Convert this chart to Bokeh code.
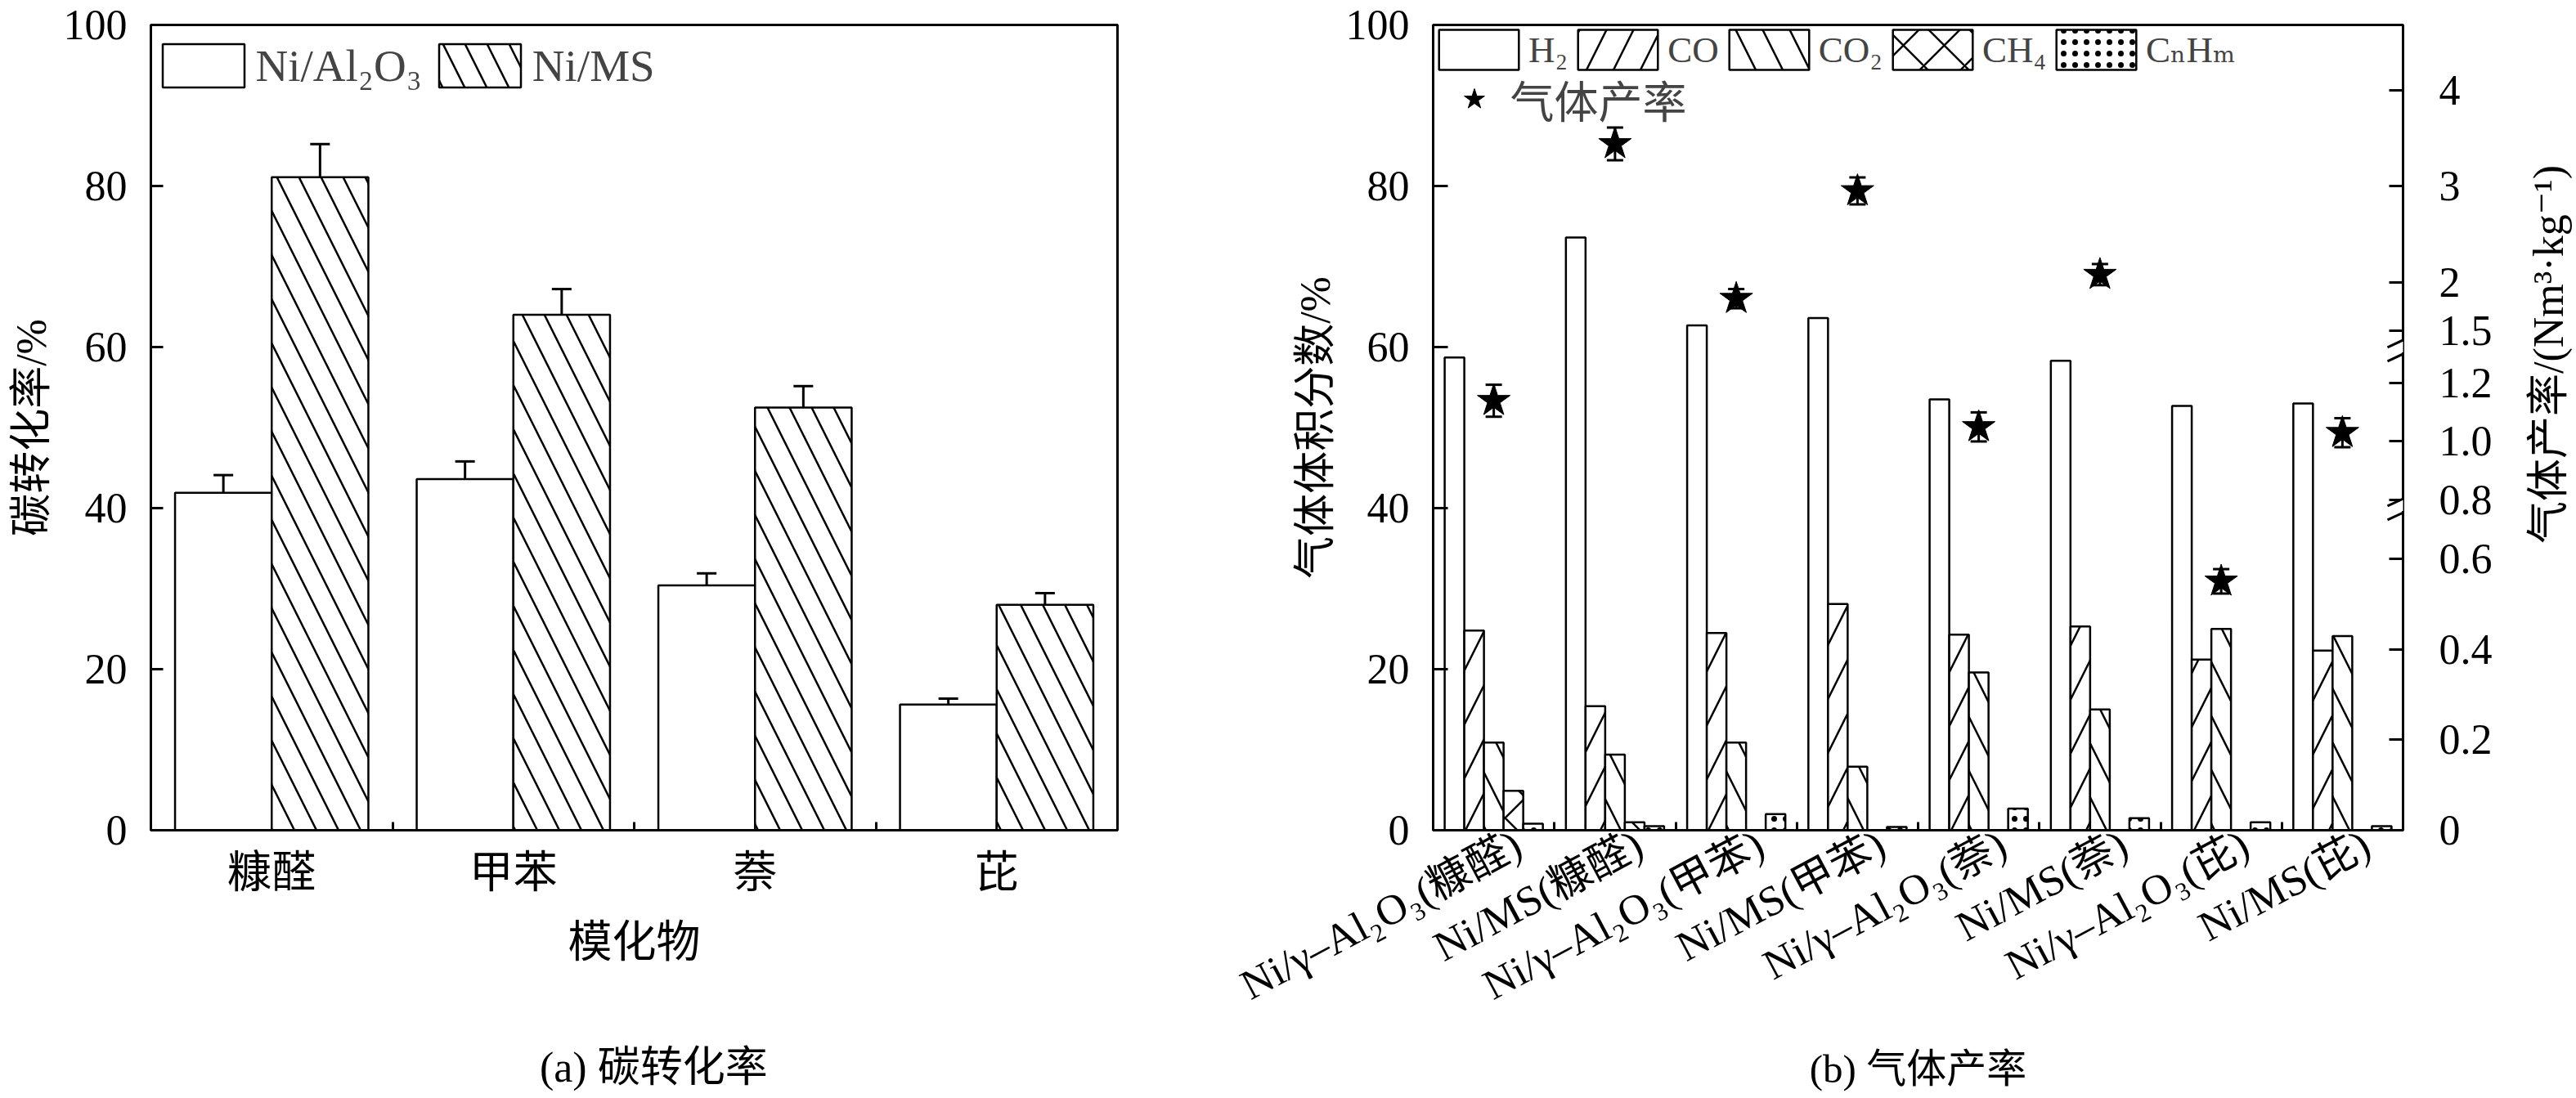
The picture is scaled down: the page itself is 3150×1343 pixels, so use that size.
import numpy as np
from bokeh.plotting import figure
from bokeh.models import (Range1d, FixedTicker, LinearAxis, Legend, LegendItem, Label,
                          Whisker, TeeHead, ColumnDataSource, Arrow)
from bokeh.layouts import row, column
from bokeh.embed import file_html
from bokeh.resources import INLINE

# ---------------- data: (a) carbon conversion ----------------
compounds = ["糠醛", "甲苯", "萘", "芘"]
conv_al2o3 = [41.9, 43.6, 30.4, 15.6]
conv_al2o3_err = [2.2, 2.2, 1.5, 0.75]
conv_ms = [81.1, 64.0, 52.5, 28.0]
conv_ms_err = [4.1, 3.2, 2.65, 1.45]

# ---------------- data: (b) gas composition and yield ----------------
samples = ["Ni/γ–Al₂O₃(糠醛)", "Ni/MS(糠醛)", "Ni/γ–Al₂O₃(甲苯)", "Ni/MS(甲苯)",
           "Ni/γ–Al₂O₃(萘)", "Ni/MS(萘)", "Ni/γ–Al₂O₃(芘)", "Ni/MS(芘)"]
h2 = [58.7, 73.6, 62.7, 63.6, 53.5, 58.3, 52.7, 53.0]
co = [24.8, 15.4, 24.5, 28.1, 24.3, 25.3, 21.2, 22.3]
co2 = [10.9, 9.4, 10.9, 7.9, 19.6, 15.0, 25.0, 24.1]
ch4 = [4.9, 1.0, 0.0, 0.0, 0.0, 0.0, 0.0, 0.0]
cnhm = [0.8, 0.5, 2.0, 0.4, 2.7, 1.5, 1.0, 0.5]
gas_yield = [1.14, 3.44, 1.83, 2.95, 1.05, 2.08, 0.55, 1.03]
gas_yield_err = [0.055, 0.17, 0.10, 0.14, 0.05, 0.11, 0.027, 0.05]
yield_ticks = [0, 0.2, 0.4, 0.6, 0.8, 1.0, 1.2, 1.5, 2, 3, 4]
yield_tick_labels = ["0", "0.2", "0.4", "0.6", "0.8", "1.0", "1.2", "1.5", "2", "3", "4"]

# broken right axis: (value limit, anchor value, anchor position on left scale, slope)
segments = [(0.70, 0.0, 0.0, 56.2), (1.31, 1.0, 48.28, 36.1), (99.0, 2.0, 68.04, 11.94)]
break_levels = [40.3, 60.0]


def to_left(v):
    for lim, v0, y0, k in segments:
        if v <= lim:
            return y0 + (v - v0) * k
    return None


# ---------------- layout constants (page has no margin) ----------------
SERIF = "Liberation Serif, DejaVu Serif, Noto Sans CJK SC, serif"
PH = 1343
HP_A, HP_B = 1262, 1271   # chart canvas heights; captions fill the rest
FH = 985
TOP = 30
WA, FWA, LA = 1490, 1182, 184
WR = 72                   # strip holding the right axis title
WB, FWB, LB = 3150 - 1490 - WR, 1186, 262
LW = 3
PYU = FH / 100.0
PXB = FWB / 8.0


def style_axis(ax, size="52px"):
    ax.axis_line_width = LW
    ax.major_tick_line_width = LW
    ax.minor_tick_line_width = LW
    ax.major_label_text_font = SERIF
    ax.major_label_text_font_size = size
    ax.major_label_text_color = "black"
    ax.axis_label_text_font = SERIF
    ax.axis_label_text_font_size = "52px"
    ax.axis_label_text_font_style = "normal"
    ax.axis_label_text_color = "black"


def base_fig(w, h, fw, left, xmax):
    p = figure(width=w, height=h, x_range=Range1d(0, xmax), y_range=Range1d(0, 100),
               output_backend="svg", toolbar_location=None,
               min_border_left=left, min_border_right=w - left - fw,
               min_border_top=TOP, min_border_bottom=h - TOP - FH)
    p.grid.visible = False
    p.outline_line_color = "black"
    p.outline_line_width = LW
    p.outline_line_alpha = 1
    p.background_fill_color = "white"
    return p


def text_fig(w, h, x, y, text, angle=0.0, size="52px"):
    c = figure(width=w, height=h, x_range=Range1d(0, w), y_range=Range1d(0, h),
               output_backend="svg", toolbar_location=None, min_border=0,
               x_axis_location=None, y_axis_location=None)
    c.grid.visible = False
    c.outline_line_color = None
    c.add_layout(Label(x=x, y=y, text=text, angle=angle, text_align="center",
                       text_baseline="middle", text_font=SERIF, text_font_size=size,
                       text_color="black"))
    return c


# =============== (a) ===============
pa = base_fig(WA, HP_A, FWA, LA, 4)
ia = np.arange(len(compounds))
xa1 = ia + 0.5 - 0.2
xa2 = ia + 0.5 + 0.2
ra1 = pa.vbar(x=xa1, top=conv_al2o3, width=0.4, bottom=0, fill_color="white",
              line_color="black", line_width=2.5)
ra2 = pa.vbar(x=xa2, top=conv_ms, width=0.4, bottom=0, fill_color="white",
              line_color="black", line_width=2.5, hatch_pattern="\\", hatch_scale=54,
              hatch_weight=2.5, hatch_color="black")
for xs, ys, es in ((xa1, conv_al2o3, conv_al2o3_err), (xa2, conv_ms, conv_ms_err)):
    src = ColumnDataSource(dict(x=xs, upper=np.array(ys) + np.array(es),
                                lower=np.array(ys) - np.array(es)))
    pa.add_layout(Whisker(source=src, base="x", upper="upper", lower="lower",
                          line_width=LW, line_color="black",
                          upper_head=TeeHead(size=24, line_width=LW, line_color="black"),
                          lower_head=TeeHead(size=24, line_width=LW, line_color="black")))

pa.yaxis.ticker = FixedTicker(ticks=[0, 20, 40, 60, 80, 100])
pa.yaxis.major_tick_in = 15
pa.yaxis.major_tick_out = 0
pa.yaxis.minor_tick_line_color = None
pa.yaxis.major_label_standoff = 29
pa.yaxis.axis_label = "碳转化率/%"
pa.yaxis.axis_label_standoff = 8
style_axis(pa.yaxis[0])

xt_a = [float(i) + 0.5 for i in ia]
pa.xaxis.ticker = FixedTicker(ticks=xt_a, minor_ticks=[1, 2, 3])
pa.xaxis.major_label_overrides = {t: c for t, c in zip(xt_a, compounds)}
pa.xaxis.major_tick_in = 0
pa.xaxis.major_tick_out = 0
pa.xaxis.minor_tick_in = 10
pa.xaxis.minor_tick_out = 0
pa.xaxis.major_label_standoff = 22
pa.xaxis.axis_label = "模化物"
pa.xaxis.axis_label_standoff = 22
style_axis(pa.xaxis[0], "54px")
pa.xaxis.axis_label_text_font_size = "54px"

leg_a = Legend(items=[LegendItem(label="Ni/Al₂O₃", renderers=[ra1]),
                      LegendItem(label="Ni/MS", renderers=[ra2])],
               location=(1.5, FH - 17 - 66), orientation="horizontal",
               glyph_width=125, glyph_height=66,
               label_text_font=SERIF, label_text_font_size="55px", label_standoff=2,
               spacing=8, padding=0, margin=0, border_line_color=None,
               background_fill_alpha=0)
pa.add_layout(leg_a)

# =============== (b) ===============
pb = base_fig(WB, HP_B, FWB, LB, 8)
ib = np.arange(len(samples))
bw = 0.162
series = [("H₂", h2, None, -2), ("CO", co, "/", -1), ("CO₂", co2, "\\", 0),
          ("CH₄", ch4, "x", 1), ("CₙHₘ", cnhm, ".", 2)]
hatch_sc = {"/": 66, "\\": 66, "x": 50, ".": 14}
hatch_wt = {"/": 2.5, "\\": 2.5, "x": 2.5, ".": 0.5}
items_b = []
for name, vals, hatch, k in series:
    kw = dict(x=ib + 0.5 + k * bw, top=vals, width=bw, bottom=0, fill_color="white",
              line_color="black", line_width=2.5)
    if hatch is not None:
        kw.update(hatch_pattern=hatch, hatch_color="black",
                  hatch_scale=hatch_sc[hatch], hatch_weight=hatch_wt[hatch])
    r = pb.vbar(**kw)
    items_b.append(LegendItem(label=name, renderers=[r]))

xs_star = ib + 0.5
ys_star = [to_left(v) for v in gas_yield]
up_star = [to_left(v + e) for v, e in zip(gas_yield, gas_yield_err)]
lo_star = [to_left(v - e) for v, e in zip(gas_yield, gas_yield_err)]
src_s = ColumnDataSource(dict(x=xs_star, upper=up_star, lower=lo_star))
pb.add_layout(Whisker(source=src_s, base="x", upper="upper", lower="lower",
                      line_width=LW, line_color="black",
                      upper_head=TeeHead(size=20, line_width=LW, line_color="black"),
                      lower_head=TeeHead(size=20, line_width=LW, line_color="black")))
rs = pb.scatter(x=xs_star, y=ys_star, marker="star", size=42, fill_color="black",
                line_color="black")

pb.yaxis.ticker = FixedTicker(ticks=[0, 20, 40, 60, 80, 100])
pb.yaxis.major_tick_in = 18
pb.yaxis.major_tick_out = 0
pb.yaxis.minor_tick_line_color = None
pb.yaxis.major_label_standoff = 29
pb.yaxis.axis_label = "气体体积分数/%"
pb.yaxis.axis_label_standoff = 6
style_axis(pb.yaxis[0])

xt_b = [float(i) + 0.5 + 0.2 for i in ib]
pb.xaxis.ticker = FixedTicker(ticks=xt_b, minor_ticks=[1, 2, 3, 4, 5, 6, 7])
pb.xaxis.major_label_overrides = {t: s for t, s in zip(xt_b, samples)}
pb.xaxis.major_label_orientation = 0.49
pb.xaxis.major_tick_in = 0
pb.xaxis.major_tick_out = 0
pb.xaxis.minor_tick_in = 10
pb.xaxis.minor_tick_out = 0
pb.xaxis.major_label_standoff = 14
style_axis(pb.xaxis[0], "52px")

rpos = [round(to_left(v), 4) for v in yield_ticks]
ax_r = LinearAxis(ticker=FixedTicker(ticks=rpos),
                  major_label_overrides={p: s for p, s in zip(rpos, yield_tick_labels)})
ax_r.major_tick_in = 17
ax_r.major_tick_out = 0
ax_r.minor_tick_line_color = None
ax_r.major_label_standoff = 44
style_axis(ax_r)
pb.add_layout(ax_r, "right")

# axis break marks on the right axis
for lvl in break_levels:
    pb.add_layout(Arrow(end=None, x_start=8.0, x_end=8.0, y_start=lvl - 6.5 / PYU,
                        y_end=lvl + 6.5 / PYU, line_color="white", line_width=7))
    for off in (-8.5, 8.5):
        yc = lvl + off / PYU
        pb.add_layout(Arrow(end=None, x_start=8.0 - 19 / PXB, x_end=8.0 + 19 / PXB,
                            y_start=yc - 8.9 / PYU, y_end=yc + 8.9 / PYU,
                            line_color="black", line_width=LW))

leg_b = Legend(items=items_b, location=(-5, FH - 61), orientation="horizontal",
               glyph_width=122, glyph_height=61, label_text_font=SERIF,
               label_text_font_size="45px", label_standoff=0, spacing=0, padding=0,
               margin=0, border_line_color=None, background_fill_alpha=0)
pb.add_layout(leg_b)
leg_s = Legend(items=[LegendItem(label="气体产率", renderers=[rs])],
               location=(17.5, FH - 46 - 90), orientation="horizontal",
               glyph_width=65, glyph_height=90, label_text_font=SERIF,
               label_text_font_size="54px", label_standoff=12, padding=0, margin=0,
               border_line_color=None, background_fill_alpha=0)
pb.add_layout(leg_s)

# right axis title (reads bottom to top) in its own strip
pr = text_fig(WR, HP_B, 38, HP_B - 520, "气体产率/(Nm³·kg⁻¹)", angle=np.pi / 2)

# captions
HC_A, HC_B = PH - HP_A, PH - HP_B
ca = text_fig(WA, HC_A, LA + FWA / 2, HC_A - (1305 - HP_A), "(a) 碳转化率")
cb = text_fig(WB + WR, HC_B, LB + FWB / 2, HC_B / 2, "(b) 气体产率", size="49px")

layout = row(column(pa, ca), column(row(pb, pr), cb))
open("out.html", "w").write(file_html(layout, INLINE))
